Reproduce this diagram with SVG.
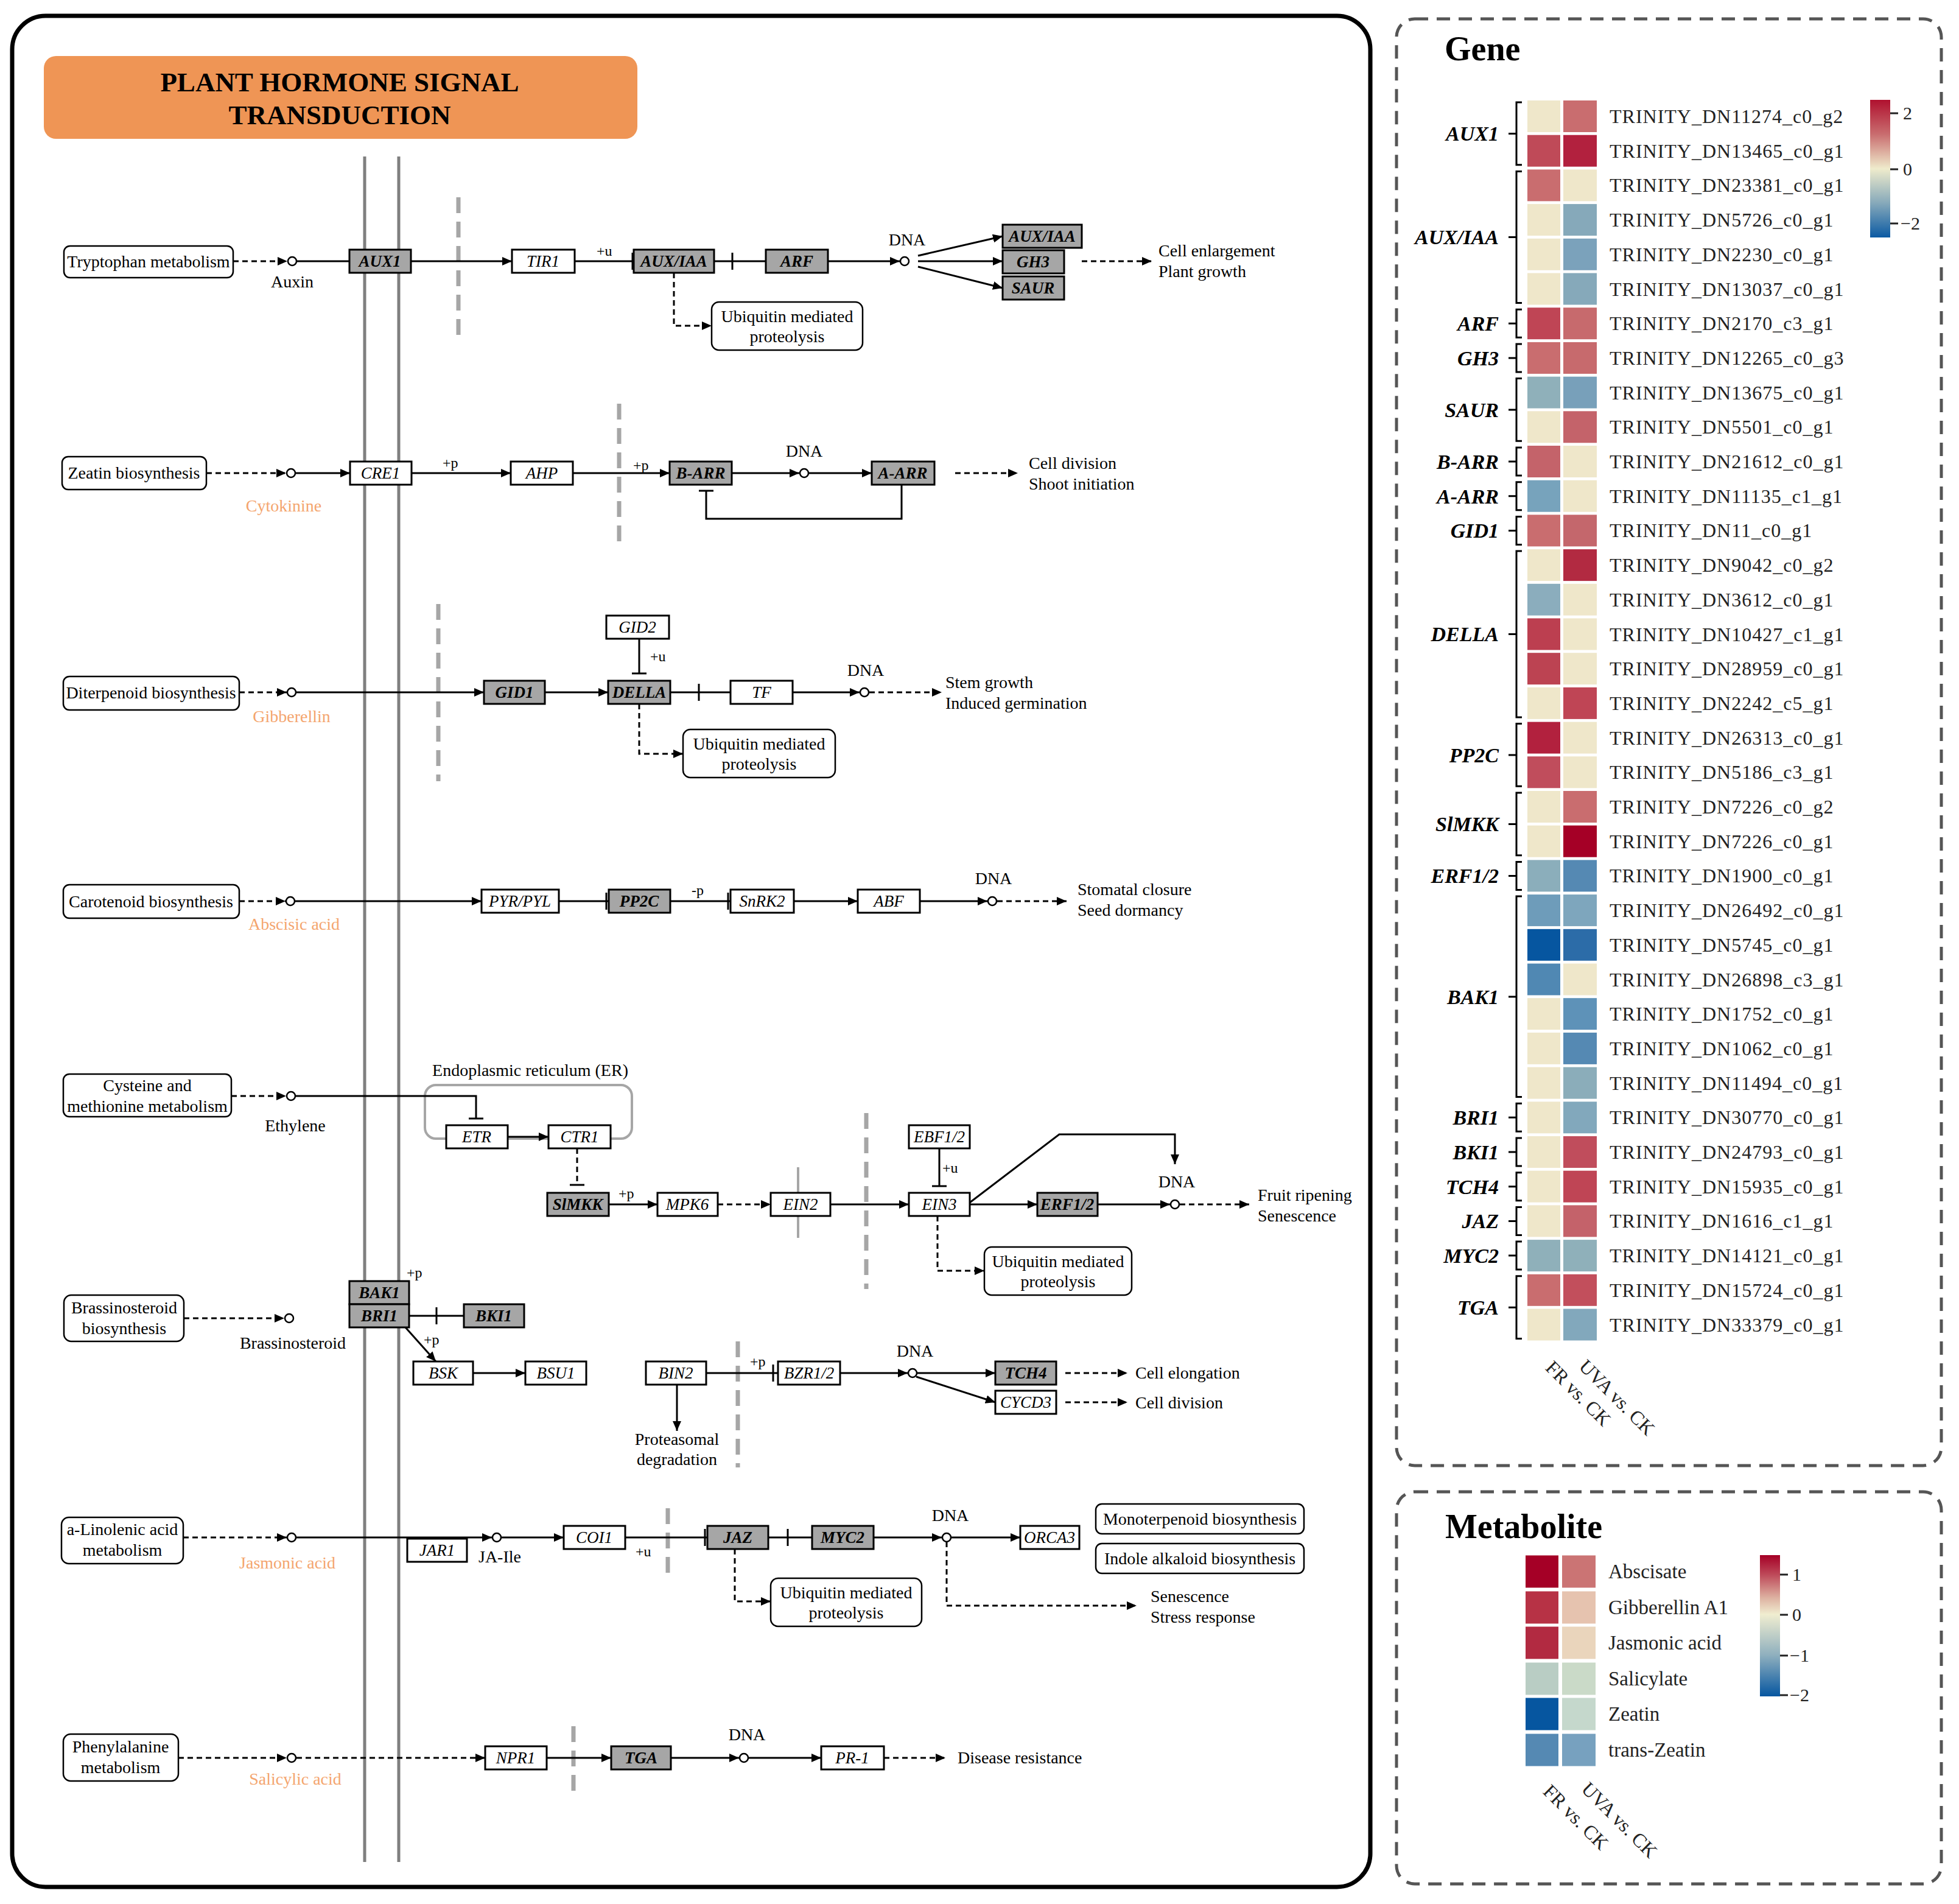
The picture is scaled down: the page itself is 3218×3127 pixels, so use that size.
<svg xmlns="http://www.w3.org/2000/svg" width="3218" height="3127" viewBox="0 0 3218 3127">
<defs>
<marker id="arr" viewBox="0 0 16 14" refX="16" refY="7" markerWidth="16" markerHeight="14" markerUnits="userSpaceOnUse" orient="auto"><path d="M0,0 L16,7 L0,14 z" fill="#000"/></marker>
<linearGradient id="gGene" x1="0" y1="0" x2="0" y2="1">
<stop offset="0" stop-color="#B0112F"/><stop offset="0.25" stop-color="#C96D6F"/><stop offset="0.5" stop-color="#EFEBCC"/><stop offset="0.75" stop-color="#86A9BA"/><stop offset="1" stop-color="#0B5AA3"/>
</linearGradient>
<linearGradient id="gMet" x1="0" y1="0" x2="0" y2="1">
<stop offset="0" stop-color="#A50026"/><stop offset="0.14" stop-color="#BE4A5A"/><stop offset="0.3" stop-color="#DDB0A0"/><stop offset="0.42" stop-color="#F0EDD0"/><stop offset="0.71" stop-color="#8EAFBE"/><stop offset="1" stop-color="#0656A0"/>
</linearGradient>
</defs>
<style>
text{font-family:"Liberation Serif","Times New Roman",serif;fill:#000}
.box{fill:#fff;stroke:#000;stroke-width:3}
.gbox{fill:#A6A6A6;stroke:#000;stroke-width:3}
.meta{fill:#fff;stroke:#000;stroke-width:2.5}
.bt{font-size:27px;font-style:italic;text-anchor:middle}
.gt{font-size:27px;font-style:italic;font-weight:bold;text-anchor:middle}
.lb{font-size:28px;text-anchor:middle}
.ll{font-size:28px}
.org{fill:#F4A56E}
.sm{font-size:24px}
.ln{stroke:#000;stroke-width:3;fill:none}
.ar{marker-end:url(#arr)}
.ds{stroke-dasharray:9 6}
.dt{stroke-dasharray:9 6}
.bar{stroke:#000;stroke-width:3}
.mem{stroke:#A6A6A6;stroke-width:7;stroke-dasharray:26 14;fill:none}
.cir{fill:#fff;stroke:#000;stroke-width:2.5}
.pan{fill:none;stroke:#555;stroke-width:5;stroke-dasharray:22 14}
.gl{font-size:32px;letter-spacing:1px;fill:#222}
.gn{font-size:34px;font-style:italic;font-weight:bold;text-anchor:end}
.br{stroke:#000;stroke-width:3;fill:none}
.tk{stroke:#222;stroke-width:3}
.lg{font-size:30px;fill:#222}
.ml{font-size:33px;fill:#222}
.rot{font-size:32px;fill:#222}
</style>

<rect x="20" y="26" width="2231" height="3073" rx="55" fill="none" stroke="#000" stroke-width="7"/>

<g id="title">
<rect x="72" y="92" width="975" height="136" rx="20" fill="#EF9555"/>
<text x="558" y="150" font-size="45" font-weight="bold" text-anchor="middle">PLANT HORMONE SIGNAL</text>
<text x="558" y="204" font-size="45" font-weight="bold" text-anchor="middle">TRANSDUCTION</text>
</g>

<g id="membranes">
<line x1="599" y1="257" x2="599" y2="3058" stroke="#7F7F7F" stroke-width="5"/>
<line x1="655" y1="257" x2="655" y2="3058" stroke="#7F7F7F" stroke-width="5"/>
<path class="mem" d="M753,324 V561 M1017,663 V900 M720,992 V1283 M1423,1828 V2117 M1212,2203 V2410 M1097,2477 V2588 M942,2835 V2947"/>
<line x1="1311" y1="1917" x2="1311" y2="2033" stroke="#A6A6A6" stroke-width="4"/>
<rect id="ER" x="698" y="1782" width="340" height="88" rx="18" fill="none" stroke="#A6A6A6" stroke-width="4"/>
<text class="lb" x="871" y="1767">Endoplasmic reticulum (ER)</text>
</g>

<g id="connectors">
<!-- row1 -->
<path class="ln ar ds" d="M383,429 H472"/>
<path class="ln" d="M487,429 H574"/>
<path class="ln ar" d="M675,429 H841"/>
<path class="ln" d="M944,429 H1041"/><path class="bar" d="M1039,415 V443"/>
<path class="ln" d="M1173,429 H1258"/><path class="bar" d="M1203,415 V443"/>
<path class="ln ar" d="M1360,429 H1478"/>
<path class="ln ar" d="M1508,420 L1647,388"/>
<path class="ln ar" d="M1508,429 H1647"/>
<path class="ln ar" d="M1508,438 L1647,473"/>
<path class="ln ar ds" d="M1777,429 H1892"/>
<path class="ln ar ds" d="M1107,448 V535 H1169"/>
<!-- row2 -->
<path class="ln ar dt" d="M339,777 H470"/>
<path class="ln ar" d="M486,777 H575"/>
<path class="ln ar" d="M676,777 H839"/>
<path class="ln ar" d="M941,777 H1100"/>
<path class="ln ar" d="M1202,777 H1313"/>
<path class="ln ar" d="M1329,777 H1432"/>
<path class="ln ar dt" d="M1569,777 H1672"/>
<path class="ln" d="M1481,796 V852 H1160 V806"/><path class="bar" d="M1148,806 H1172"/>
<!-- row3 -->
<path class="ln ar dt" d="M393,1137 H471"/>
<path class="ln ar" d="M486,1137 H795"/>
<path class="ln ar" d="M895,1137 H999"/>
<path class="ln" d="M1050,1049 V1106"/><path class="bar" d="M1038,1106 H1062"/>
<path class="ln" d="M1101,1137 H1200"/><path class="bar" d="M1148,1123 V1151"/>
<path class="ln ar" d="M1302,1137 H1412"/>
<path class="ln ar dt" d="M1428,1137 H1547"/>
<path class="ln ar ds" d="M1050,1156 V1238 H1122"/>
<!-- row4 -->
<path class="ln ar dt" d="M393,1480 H469"/>
<path class="ln ar" d="M484,1480 H791"/>
<path class="ln" d="M918,1480 H1000"/><path class="bar" d="M996,1466 V1494"/>
<path class="ln" d="M1101,1480 H1200"/><path class="bar" d="M1196,1466 V1494"/>
<path class="ln ar" d="M1304,1480 H1409"/>
<path class="ln ar" d="M1511,1480 H1622"/>
<path class="ln ar dt" d="M1638,1480 H1752"/>
<!-- row5 -->
<path class="ln ar dt" d="M380,1800 H470"/>
<path class="ln" d="M485,1800 H782 V1837"/><path class="bar" d="M770,1837 H794"/>
<path class="ln ar" d="M834,1867 H901"/>
<path class="ln ds" d="M948,1886 V1946"/><path class="bar" d="M936,1946 H960"/>
<path class="ln ar" d="M1000,1978 H1080"/>
<path class="ln ar dt" d="M1179,1978 H1266"/>
<path class="ln ar" d="M1364,1978 H1493"/>
<path class="ln" d="M1543,1886 V1948"/><path class="bar" d="M1531,1948 H1555"/>
<path class="ln ar" d="M1593,1978 H1704"/>
<path class="ln ar" d="M1803,1978 H1922"/>
<path class="ln ar" d="M1593,1975 L1740,1863 H1930 V1912"/>
<path class="ln ar dt" d="M1938,1978 H2052"/>
<path class="ln ar ds" d="M1540,1997 V2087 H1617"/>
<!-- row6 -->
<path class="ln ar dt" d="M302,2165 H467"/>
<path class="ln" d="M672,2161 H762"/><path class="bar" d="M717,2147 V2175"/>
<path class="ln ar" d="M666,2180 L716,2236"/>
<path class="ln ar" d="M777,2255 H863"/>
<path class="ln ar" d="M1112,2274 V2350"/>
<path class="ln" d="M1160,2255 H1278"/><path class="bar" d="M1270,2241 V2269"/>
<path class="ln ar" d="M1380,2255 H1491"/>
<path class="ln ar" d="M1507,2255 H1635"/>
<path class="ln ar" d="M1505,2261 L1635,2303"/>
<path class="ln ar dt" d="M1750,2255 H1852"/>
<path class="ln ar dt" d="M1750,2303 H1852"/>
<!-- row7 -->
<path class="ln ar dt" d="M301,2525 H471"/>
<path class="ln ar" d="M486,2525 H808"/>
<path class="ln ar" d="M823,2525 H926"/>
<path class="ln" d="M1027,2525 H1162"/><path class="bar" d="M1158,2511 V2539"/>
<path class="ln" d="M1262,2525 H1334"/><path class="bar" d="M1294,2511 V2539"/>
<path class="ln ar" d="M1435,2525 H1547"/>
<path class="ln ar" d="M1562,2525 H1676"/>
<path class="ln ar ds" d="M1207,2544 V2630 H1266"/>
<path class="ln ar ds" d="M1555,2532 V2637 H1867"/>
<!-- row8 -->
<path class="ln ar dt" d="M293,2887 H471"/>
<path class="ln ar dt" d="M487,2887 H797"/>
<path class="ln ar" d="M898,2887 H1004"/>
<path class="ln ar" d="M1102,2887 H1214"/>
<path class="ln ar" d="M1230,2887 H1349"/>
<path class="ln ar dt" d="M1452,2887 H1553"/>
<!-- edge labels -->
<text class="sm" x="980" y="420">+u</text>
<text class="sm" x="727" y="768">+p</text>
<text class="sm" x="1040" y="772">+p</text>
<text class="sm" x="1068" y="1086">+u</text>
<text class="sm" x="1136" y="1470">-p</text>
<text class="sm" x="1016" y="1968">+p</text>
<text class="sm" x="1548" y="1926">+u</text>
<text class="sm" x="668" y="2098">+p</text>
<text class="sm" x="696" y="2208">+p</text>
<text class="sm" x="1232" y="2244">+p</text>
<text class="sm" x="1044" y="2556">+u</text>
</g>

<g id="n-trp"><rect class="meta" x="105" y="404" width="278" height="52" rx="10"/><text class="lb" x="244" y="439">Tryptophan metabolism</text></g>
<g id="n-auxin"><circle class="cir" cx="480" cy="429" r="7"/><text class="lb" x="480" y="472">Auxin</text></g>
<g id="n-AUX1"><rect class="gbox" x="574" y="410" width="101" height="38"/><text class="gt" x="624" y="438">AUX1</text></g>
<g id="n-TIR1"><rect class="box" x="841" y="410" width="103" height="38"/><text class="bt" x="892" y="438">TIR1</text></g>
<g id="n-AUXIAA"><rect class="gbox" x="1041" y="410" width="132" height="38"/><text class="gt" x="1107" y="438">AUX/IAA</text></g>
<g id="n-ARF"><rect class="gbox" x="1258" y="410" width="102" height="38"/><text class="gt" x="1309" y="438">ARF</text></g>
<g id="n-dna1"><circle class="cir" cx="1486" cy="429" r="7"/><text class="lb" x="1490" y="403">DNA</text></g>
<g id="n-AUXIAA2"><rect class="gbox" x="1647" y="369" width="130" height="38"/><text class="gt" x="1712" y="397">AUX/IAA</text></g>
<g id="n-GH3"><rect class="gbox" x="1647" y="411" width="101" height="38"/><text class="gt" x="1697" y="439">GH3</text></g>
<g id="n-SAUR"><rect class="gbox" x="1647" y="454" width="101" height="38"/><text class="gt" x="1697" y="482">SAUR</text></g>
<g id="n-out1"><text class="ll" x="1903" y="421">Cell enlargement</text><text class="ll" x="1903" y="455">Plant growth</text></g>
<g id="n-ub1"><rect class="meta" x="1169" y="496" width="248" height="79" rx="12"/><text class="lb" x="1293" y="529">Ubiquitin mediated</text><text class="lb" x="1293" y="562">proteolysis</text></g>

<g id="n-zeatin"><rect class="meta" x="102" y="750" width="237" height="54" rx="10"/><text class="lb" x="220" y="786">Zeatin biosynthesis</text></g>
<g id="n-cyto"><circle class="cir" cx="478" cy="777" r="7"/><text class="lb org" x="466" y="840">Cytokinine</text></g>
<g id="n-CRE1"><rect class="box" x="575" y="758" width="101" height="38"/><text class="bt" x="625" y="786">CRE1</text></g>
<g id="n-AHP"><rect class="box" x="839" y="758" width="102" height="38"/><text class="bt" x="890" y="786">AHP</text></g>
<g id="n-BARR"><rect class="gbox" x="1100" y="758" width="102" height="38"/><text class="gt" x="1151" y="786">B-ARR</text></g>
<g id="n-dna2"><circle class="cir" cx="1321" cy="777" r="7"/><text class="lb" x="1321" y="750">DNA</text></g>
<g id="n-AARR"><rect class="gbox" x="1432" y="758" width="103" height="38"/><text class="gt" x="1483" y="786">A-ARR</text></g>
<g id="n-out2"><text class="ll" x="1690" y="770">Cell division</text><text class="ll" x="1690" y="804">Shoot initiation</text></g>

<g id="n-diterp"><rect class="meta" x="104" y="1111" width="289" height="55" rx="10"/><text class="lb" x="248" y="1147">Diterpenoid biosynthesis</text></g>
<g id="n-gib"><circle class="cir" cx="479" cy="1137" r="7"/><text class="lb org" x="479" y="1186">Gibberellin</text></g>
<g id="n-GID1"><rect class="gbox" x="795" y="1118" width="100" height="38"/><text class="gt" x="845" y="1146">GID1</text></g>
<g id="n-GID2"><rect class="box" x="996" y="1011" width="103" height="38"/><text class="bt" x="1047" y="1039">GID2</text></g>
<g id="n-DELLA"><rect class="gbox" x="999" y="1118" width="102" height="38"/><text class="gt" x="1050" y="1146">DELLA</text></g>
<g id="n-TF"><rect class="box" x="1200" y="1118" width="102" height="38"/><text class="bt" x="1251" y="1146">TF</text></g>
<g id="n-dna3"><circle class="cir" cx="1420" cy="1137" r="7"/><text class="lb" x="1422" y="1110">DNA</text></g>
<g id="n-out3"><text class="ll" x="1553" y="1130">Stem growth</text><text class="ll" x="1553" y="1164">Induced germination</text></g>
<g id="n-ub3"><rect class="meta" x="1122" y="1198" width="250" height="79" rx="12"/><text class="lb" x="1247" y="1231">Ubiquitin mediated</text><text class="lb" x="1247" y="1264">proteolysis</text></g>

<g id="n-carot"><rect class="meta" x="104" y="1453" width="289" height="55" rx="10"/><text class="lb" x="248" y="1490">Carotenoid biosynthesis</text></g>
<g id="n-aba"><circle class="cir" cx="477" cy="1480" r="7"/><text class="lb org" x="483" y="1527">Abscisic acid</text></g>
<g id="n-PYR"><rect class="box" x="791" y="1461" width="127" height="38"/><text class="bt" x="854" y="1489">PYR/PYL</text></g>
<g id="n-PP2C"><rect class="gbox" x="1000" y="1461" width="101" height="38"/><text class="gt" x="1050" y="1489">PP2C</text></g>
<g id="n-SnRK2"><rect class="box" x="1200" y="1461" width="104" height="38"/><text class="bt" x="1252" y="1489">SnRK2</text></g>
<g id="n-ABF"><rect class="box" x="1409" y="1461" width="102" height="38"/><text class="bt" x="1460" y="1489">ABF</text></g>
<g id="n-dna4"><circle class="cir" cx="1630" cy="1480" r="7"/><text class="lb" x="1632" y="1452">DNA</text></g>
<g id="n-out4"><text class="ll" x="1770" y="1470">Stomatal closure</text><text class="ll" x="1770" y="1504">Seed dormancy</text></g>

<g id="n-cys"><rect class="meta" x="104" y="1764" width="276" height="70" rx="10"/><text class="lb" x="242" y="1792">Cysteine and</text><text class="lb" x="242" y="1826">methionine metabolism</text></g>
<g id="n-eth"><circle class="cir" cx="478" cy="1800" r="7"/><text class="lb" x="485" y="1858">Ethylene</text></g>
<g id="n-ETR"><rect class="box" x="733" y="1848" width="101" height="38"/><text class="bt" x="783" y="1876">ETR</text></g>
<g id="n-CTR1"><rect class="box" x="901" y="1848" width="102" height="38"/><text class="bt" x="952" y="1876">CTR1</text></g>
<g id="n-SlMKK"><rect class="gbox" x="899" y="1959" width="101" height="38"/><text class="gt" x="949" y="1987">SlMKK</text></g>
<g id="n-MPK6"><rect class="box" x="1080" y="1959" width="99" height="38"/><text class="bt" x="1129" y="1987">MPK6</text></g>
<g id="n-EIN2"><rect class="box" x="1266" y="1959" width="98" height="38"/><text class="bt" x="1315" y="1987">EIN2</text></g>
<g id="n-EBF"><rect class="box" x="1493" y="1848" width="100" height="38"/><text class="bt" x="1543" y="1876">EBF1/2</text></g>
<g id="n-EIN3"><rect class="box" x="1493" y="1959" width="100" height="38"/><text class="bt" x="1543" y="1987">EIN3</text></g>
<g id="n-ERF"><rect class="gbox" x="1704" y="1959" width="99" height="38"/><text class="gt" x="1753" y="1987">ERF1/2</text></g>
<g id="n-dna5"><circle class="cir" cx="1930" cy="1978" r="7"/><text class="lb" x="1933" y="1950">DNA</text></g>
<g id="n-out5"><text class="ll" x="2066" y="1972">Fruit ripening</text><text class="ll" x="2066" y="2006">Senescence</text></g>
<g id="n-ub5"><rect class="meta" x="1617" y="2048" width="242" height="79" rx="12"/><text class="lb" x="1738" y="2081">Ubiquitin mediated</text><text class="lb" x="1738" y="2114">proteolysis</text></g>

<g id="n-brass"><rect class="meta" x="105" y="2127" width="197" height="76" rx="12"/><text class="lb" x="204" y="2157">Brassinosteroid</text><text class="lb" x="204" y="2191">biosynthesis</text></g>
<g id="n-br"><circle class="cir" cx="475" cy="2165" r="7"/><text class="lb" x="481" y="2215">Brassinosteroid</text></g>
<g id="n-BAK1"><rect class="gbox" x="574" y="2104" width="98" height="38"/><text class="gt" x="623" y="2132">BAK1</text></g>
<g id="n-BRI1"><rect class="gbox" x="574" y="2142" width="98" height="38"/><text class="gt" x="623" y="2170">BRI1</text></g>
<g id="n-BKI1"><rect class="gbox" x="762" y="2142" width="99" height="38"/><text class="gt" x="811" y="2170">BKI1</text></g>
<g id="n-BSK"><rect class="box" x="679" y="2236" width="98" height="38"/><text class="bt" x="728" y="2264">BSK</text></g>
<g id="n-BSU1"><rect class="box" x="863" y="2236" width="100" height="38"/><text class="bt" x="913" y="2264">BSU1</text></g>
<g id="n-BIN2"><rect class="box" x="1061" y="2236" width="99" height="38"/><text class="bt" x="1110" y="2264">BIN2</text></g>
<g id="n-prot"><text class="lb" x="1112" y="2373">Proteasomal</text><text class="lb" x="1112" y="2406">degradation</text></g>
<g id="n-BZR"><rect class="box" x="1278" y="2236" width="102" height="38"/><text class="bt" x="1329" y="2264">BZR1/2</text></g>
<g id="n-dna6"><circle class="cir" cx="1499" cy="2255" r="7"/><text class="lb" x="1503" y="2228">DNA</text></g>
<g id="n-TCH4"><rect class="gbox" x="1635" y="2236" width="100" height="38"/><text class="gt" x="1685" y="2264">TCH4</text></g>
<g id="n-CYCD3"><rect class="box" x="1635" y="2284" width="100" height="38"/><text class="bt" x="1685" y="2312">CYCD3</text></g>
<g id="n-out6"><text class="ll" x="1865" y="2264">Cell elongation</text><text class="ll" x="1865" y="2313">Cell division</text></g>

<g id="n-lino"><rect class="meta" x="101" y="2492" width="200" height="76" rx="12"/><text class="lb" x="201" y="2521">a-Linolenic acid</text><text class="lb" x="201" y="2555">metabolism</text></g>
<g id="n-ja"><circle class="cir" cx="479" cy="2525" r="7"/><text class="lb org" x="472" y="2576">Jasmonic acid</text></g>
<g id="n-JAR1"><rect class="box" x="669" y="2527" width="98" height="38"/><text class="bt" x="718" y="2555">JAR1</text></g>
<g id="n-jaile"><circle class="cir" cx="816" cy="2525" r="7"/><text class="lb" x="821" y="2566">JA-Ile</text></g>
<g id="n-COI1"><rect class="box" x="926" y="2506" width="101" height="38"/><text class="bt" x="976" y="2534">COI1</text></g>
<g id="n-JAZ"><rect class="gbox" x="1162" y="2506" width="100" height="38"/><text class="gt" x="1212" y="2534">JAZ</text></g>
<g id="n-MYC2"><rect class="gbox" x="1334" y="2506" width="101" height="38"/><text class="gt" x="1384" y="2534">MYC2</text></g>
<g id="n-dna7"><circle class="cir" cx="1555" cy="2525" r="7"/><text class="lb" x="1561" y="2498">DNA</text></g>
<g id="n-ORCA3"><rect class="box" x="1676" y="2506" width="97" height="38"/><text class="bt" x="1724" y="2534">ORCA3</text></g>
<g id="n-mono"><rect class="meta" x="1800" y="2470" width="342" height="49" rx="10"/><text class="lb" x="1971" y="2504">Monoterpenoid biosynthesis</text></g>
<g id="n-indole"><rect class="meta" x="1800" y="2535" width="342" height="49" rx="10"/><text class="lb" x="1971" y="2569">Indole alkaloid biosynthesis</text></g>
<g id="n-ub7"><rect class="meta" x="1266" y="2592" width="248" height="79" rx="12"/><text class="lb" x="1390" y="2625">Ubiquitin mediated</text><text class="lb" x="1390" y="2658">proteolysis</text></g>
<g id="n-out7"><text class="ll" x="1890" y="2631">Senescence</text><text class="ll" x="1890" y="2665">Stress response</text></g>

<g id="n-phe"><rect class="meta" x="104" y="2848" width="189" height="77" rx="12"/><text class="lb" x="198" y="2878">Phenylalanine</text><text class="lb" x="198" y="2912">metabolism</text></g>
<g id="n-sa"><circle class="cir" cx="479" cy="2887" r="7"/><text class="lb org" x="485" y="2931">Salicylic acid</text></g>
<g id="n-NPR1"><rect class="box" x="797" y="2868" width="101" height="38"/><text class="bt" x="847" y="2896">NPR1</text></g>
<g id="n-TGA"><rect class="gbox" x="1004" y="2868" width="98" height="38"/><text class="gt" x="1053" y="2896">TGA</text></g>
<g id="n-dna8"><circle class="cir" cx="1222" cy="2887" r="7"/><text class="lb" x="1227" y="2858">DNA</text></g>
<g id="n-PR1"><rect class="box" x="1349" y="2868" width="103" height="38"/><text class="bt" x="1400" y="2896">PR-1</text></g>
<g id="n-out8"><text class="ll" x="1573" y="2896">Disease resistance</text></g>

<g id="gene-panel">
<rect class="pan" x="2294" y="31" width="895" height="2376" rx="30"/>
<text x="2373" y="99" font-size="56" font-weight="bold">Gene</text>
<g id="gene-cells">
<rect x="2509" y="165.0" width="54" height="52" fill="#EFE7CA"/><rect x="2568" y="165.0" width="55" height="52" fill="#C96D6F"/>
<rect x="2509" y="221.7" width="54" height="52" fill="#BF4A58"/><rect x="2568" y="221.7" width="55" height="52" fill="#B2213E"/>
<rect x="2509" y="278.4" width="54" height="52" fill="#C96D6F"/><rect x="2568" y="278.4" width="55" height="52" fill="#EFE7CA"/>
<rect x="2509" y="335.1" width="54" height="52" fill="#EFE7CA"/><rect x="2568" y="335.1" width="55" height="52" fill="#86A9BA"/>
<rect x="2509" y="391.8" width="54" height="52" fill="#EFE7CA"/><rect x="2568" y="391.8" width="55" height="52" fill="#7BA2BB"/>
<rect x="2509" y="448.5" width="54" height="52" fill="#EFE7CA"/><rect x="2568" y="448.5" width="55" height="52" fill="#86A9BA"/>
<rect x="2509" y="505.2" width="54" height="52" fill="#BF4555"/><rect x="2568" y="505.2" width="55" height="52" fill="#C76A6D"/>
<rect x="2509" y="561.9" width="54" height="52" fill="#C96D6F"/><rect x="2568" y="561.9" width="55" height="52" fill="#C76A6D"/>
<rect x="2509" y="618.6" width="54" height="52" fill="#8FB0BA"/><rect x="2568" y="618.6" width="55" height="52" fill="#78A0BA"/>
<rect x="2509" y="675.3" width="54" height="52" fill="#EFE7CA"/><rect x="2568" y="675.3" width="55" height="52" fill="#C4636A"/>
<rect x="2509" y="732.0" width="54" height="52" fill="#C4636A"/><rect x="2568" y="732.0" width="55" height="52" fill="#EFE7CA"/>
<rect x="2509" y="788.7" width="54" height="52" fill="#77A3BC"/><rect x="2568" y="788.7" width="55" height="52" fill="#EFE7CA"/>
<rect x="2509" y="845.4" width="54" height="52" fill="#C96D6F"/><rect x="2568" y="845.4" width="55" height="52" fill="#C4676C"/>
<rect x="2509" y="902.1" width="54" height="52" fill="#EFE7CA"/><rect x="2568" y="902.1" width="55" height="52" fill="#B22A41"/>
<rect x="2509" y="958.8" width="54" height="52" fill="#8BADBD"/><rect x="2568" y="958.8" width="55" height="52" fill="#EFE7CA"/>
<rect x="2509" y="1015.5" width="54" height="52" fill="#BC3F50"/><rect x="2568" y="1015.5" width="55" height="52" fill="#EFE7CA"/>
<rect x="2509" y="1072.2" width="54" height="52" fill="#BC4352"/><rect x="2568" y="1072.2" width="55" height="52" fill="#EFE7CA"/>
<rect x="2509" y="1128.9" width="54" height="52" fill="#EFE7CA"/><rect x="2568" y="1128.9" width="55" height="52" fill="#BF4555"/>
<rect x="2509" y="1185.6" width="54" height="52" fill="#B2213E"/><rect x="2568" y="1185.6" width="55" height="52" fill="#EFE7CA"/>
<rect x="2509" y="1242.3" width="54" height="52" fill="#C04D5C"/><rect x="2568" y="1242.3" width="55" height="52" fill="#EFE7CA"/>
<rect x="2509" y="1299.0" width="54" height="52" fill="#EFE7CA"/><rect x="2568" y="1299.0" width="55" height="52" fill="#C96D6F"/>
<rect x="2509" y="1355.7" width="54" height="52" fill="#EFE7CA"/><rect x="2568" y="1355.7" width="55" height="52" fill="#A50026"/>
<rect x="2509" y="1412.4" width="54" height="52" fill="#8BAEBB"/><rect x="2568" y="1412.4" width="55" height="52" fill="#5589B3"/>
<rect x="2509" y="1469.1" width="54" height="52" fill="#6E9CBA"/><rect x="2568" y="1469.1" width="55" height="52" fill="#7EA6BD"/>
<rect x="2509" y="1525.8" width="54" height="52" fill="#0656A0"/><rect x="2568" y="1525.8" width="55" height="52" fill="#2C6CA8"/>
<rect x="2509" y="1582.5" width="54" height="52" fill="#5088B3"/><rect x="2568" y="1582.5" width="55" height="52" fill="#EFE7CA"/>
<rect x="2509" y="1639.2" width="54" height="52" fill="#EFE7CA"/><rect x="2568" y="1639.2" width="55" height="52" fill="#5E92B8"/>
<rect x="2509" y="1695.9" width="54" height="52" fill="#EFE7CA"/><rect x="2568" y="1695.9" width="55" height="52" fill="#5589B3"/>
<rect x="2509" y="1752.6" width="54" height="52" fill="#EFE7CA"/><rect x="2568" y="1752.6" width="55" height="52" fill="#8BADBA"/>
<rect x="2509" y="1809.3" width="54" height="52" fill="#EFE7CA"/><rect x="2568" y="1809.3" width="55" height="52" fill="#82A8BC"/>
<rect x="2509" y="1866.0" width="54" height="52" fill="#EFE7CA"/><rect x="2568" y="1866.0" width="55" height="52" fill="#C04D5C"/>
<rect x="2509" y="1922.7" width="54" height="52" fill="#EFE7CA"/><rect x="2568" y="1922.7" width="55" height="52" fill="#BF4555"/>
<rect x="2509" y="1979.4" width="54" height="52" fill="#EFE7CA"/><rect x="2568" y="1979.4" width="55" height="52" fill="#C4626A"/>
<rect x="2509" y="2036.1" width="54" height="52" fill="#8FB0BA"/><rect x="2568" y="2036.1" width="55" height="52" fill="#8FB0BA"/>
<rect x="2509" y="2092.8" width="54" height="52" fill="#C96D6F"/><rect x="2568" y="2092.8" width="55" height="52" fill="#C24F5C"/>
<rect x="2509" y="2149.5" width="54" height="52" fill="#EFE7CA"/><rect x="2568" y="2149.5" width="55" height="52" fill="#82A8BC"/>
</g>
<g id="gene-ids">
<text class="gl" x="2644" y="202">TRINITY_DN11274_c0_g2</text>
<text class="gl" x="2644" y="258.7">TRINITY_DN13465_c0_g1</text>
<text class="gl" x="2644" y="315.4">TRINITY_DN23381_c0_g1</text>
<text class="gl" x="2644" y="372.1">TRINITY_DN5726_c0_g1</text>
<text class="gl" x="2644" y="428.8">TRINITY_DN2230_c0_g1</text>
<text class="gl" x="2644" y="485.5">TRINITY_DN13037_c0_g1</text>
<text class="gl" x="2644" y="542.2">TRINITY_DN2170_c3_g1</text>
<text class="gl" x="2644" y="598.9">TRINITY_DN12265_c0_g3</text>
<text class="gl" x="2644" y="655.6">TRINITY_DN13675_c0_g1</text>
<text class="gl" x="2644" y="712.3">TRINITY_DN5501_c0_g1</text>
<text class="gl" x="2644" y="769">TRINITY_DN21612_c0_g1</text>
<text class="gl" x="2644" y="825.7">TRINITY_DN11135_c1_g1</text>
<text class="gl" x="2644" y="882.4">TRINITY_DN11_c0_g1</text>
<text class="gl" x="2644" y="939.1">TRINITY_DN9042_c0_g2</text>
<text class="gl" x="2644" y="995.8">TRINITY_DN3612_c0_g1</text>
<text class="gl" x="2644" y="1052.5">TRINITY_DN10427_c1_g1</text>
<text class="gl" x="2644" y="1109.2">TRINITY_DN28959_c0_g1</text>
<text class="gl" x="2644" y="1165.9">TRINITY_DN2242_c5_g1</text>
<text class="gl" x="2644" y="1222.6">TRINITY_DN26313_c0_g1</text>
<text class="gl" x="2644" y="1279.3">TRINITY_DN5186_c3_g1</text>
<text class="gl" x="2644" y="1336">TRINITY_DN7226_c0_g2</text>
<text class="gl" x="2644" y="1392.7">TRINITY_DN7226_c0_g1</text>
<text class="gl" x="2644" y="1449.4">TRINITY_DN1900_c0_g1</text>
<text class="gl" x="2644" y="1506.1">TRINITY_DN26492_c0_g1</text>
<text class="gl" x="2644" y="1562.8">TRINITY_DN5745_c0_g1</text>
<text class="gl" x="2644" y="1619.5">TRINITY_DN26898_c3_g1</text>
<text class="gl" x="2644" y="1676.2">TRINITY_DN1752_c0_g1</text>
<text class="gl" x="2644" y="1732.9">TRINITY_DN1062_c0_g1</text>
<text class="gl" x="2644" y="1789.6">TRINITY_DN11494_c0_g1</text>
<text class="gl" x="2644" y="1846.3">TRINITY_DN30770_c0_g1</text>
<text class="gl" x="2644" y="1903">TRINITY_DN24793_c0_g1</text>
<text class="gl" x="2644" y="1959.7">TRINITY_DN15935_c0_g1</text>
<text class="gl" x="2644" y="2016.4">TRINITY_DN1616_c1_g1</text>
<text class="gl" x="2644" y="2073.1">TRINITY_DN14121_c0_g1</text>
<text class="gl" x="2644" y="2129.8">TRINITY_DN15724_c0_g1</text>
<text class="gl" x="2644" y="2186.5">TRINITY_DN33379_c0_g1</text>
</g>
<g id="gene-groups">
<path class="br" d="M2500,168 H2491 V270.7 H2500 M2491,219.4 H2478"/><text class="gn" x="2462" y="231">AUX1</text>
<path class="br" d="M2500,281.4 H2491 V497.5 H2500 M2491,389.5 H2478"/><text class="gn" x="2462" y="401">AUX/IAA</text>
<path class="br" d="M2500,508.2 H2491 V554.2 H2500 M2491,531.2 H2478"/><text class="gn" x="2462" y="543">ARF</text>
<path class="br" d="M2500,564.9 H2491 V610.9 H2500 M2491,587.9 H2478"/><text class="gn" x="2462" y="600">GH3</text>
<path class="br" d="M2500,621.6 H2491 V724.3 H2500 M2491,673 H2478"/><text class="gn" x="2462" y="685">SAUR</text>
<path class="br" d="M2500,735 H2491 V781 H2500 M2491,758 H2478"/><text class="gn" x="2462" y="770">B-ARR</text>
<path class="br" d="M2500,791.7 H2491 V837.7 H2500 M2491,814.7 H2478"/><text class="gn" x="2462" y="827">A-ARR</text>
<path class="br" d="M2500,848.4 H2491 V894.4 H2500 M2491,871.4 H2478"/><text class="gn" x="2462" y="883">GID1</text>
<path class="br" d="M2500,905.1 H2491 V1177.9 H2500 M2491,1041.5 H2478"/><text class="gn" x="2462" y="1053">DELLA</text>
<path class="br" d="M2500,1188.6 H2491 V1291.3 H2500 M2491,1240 H2478"/><text class="gn" x="2462" y="1252">PP2C</text>
<path class="br" d="M2500,1302 H2491 V1404.7 H2500 M2491,1353.4 H2478"/><text class="gn" x="2462" y="1365">SlMKK</text>
<path class="br" d="M2500,1415.4 H2491 V1461.4 H2500 M2491,1438.4 H2478"/><text class="gn" x="2462" y="1450">ERF1/2</text>
<path class="br" d="M2500,1472.1 H2491 V1801.6 H2500 M2491,1636.9 H2478"/><text class="gn" x="2462" y="1649">BAK1</text>
<path class="br" d="M2500,1812.3 H2491 V1858.3 H2500 M2491,1835.3 H2478"/><text class="gn" x="2462" y="1847">BRI1</text>
<path class="br" d="M2500,1869 H2491 V1915 H2500 M2491,1892 H2478"/><text class="gn" x="2462" y="1904">BKI1</text>
<path class="br" d="M2500,1925.7 H2491 V1971.7 H2500 M2491,1948.7 H2478"/><text class="gn" x="2462" y="1961">TCH4</text>
<path class="br" d="M2500,1982.4 H2491 V2028.4 H2500 M2491,2005.4 H2478"/><text class="gn" x="2462" y="2017">JAZ</text>
<path class="br" d="M2500,2039.1 H2491 V2085.1 H2500 M2491,2062.1 H2478"/><text class="gn" x="2462" y="2074">MYC2</text>
<path class="br" d="M2500,2095.8 H2491 V2198.5 H2500 M2491,2147.2 H2478"/><text class="gn" x="2462" y="2159">TGA</text>
</g>
<g id="gene-legend">
<rect x="3072" y="164" width="33" height="226" fill="url(#gGene)"/>
<path class="tk" d="M3105,186 H3118 M3105,278 H3118 M3105,367 H3118"/>
<text class="lg" x="3126" y="196">2</text>
<text class="lg" x="3126" y="288">0</text>
<text class="lg" x="3122" y="377">−2</text>
</g>
<text class="rot" x="2537" y="2248" transform="rotate(45 2537 2248)">FR vs. CK</text>
<text class="rot" x="2592" y="2246" transform="rotate(45 2592 2246)">UVA vs. CK</text>
</g>

<g id="metabolite-panel">
<rect class="pan" x="2294" y="2450" width="895" height="644" rx="30"/>
<text x="2374" y="2526" font-size="56" font-weight="bold">Metabolite</text>
<rect x="2506" y="2554.5" width="54" height="53" fill="#A50026"/><rect x="2566" y="2554.5" width="55" height="53" fill="#CB7474"/>
<rect x="2506" y="2613.5" width="54" height="53" fill="#B73245"/><rect x="2566" y="2613.5" width="55" height="53" fill="#E6C3AF"/>
<rect x="2506" y="2671.5" width="54" height="53" fill="#B22A41"/><rect x="2566" y="2671.5" width="55" height="53" fill="#EAD5BC"/>
<rect x="2506" y="2730.5" width="54" height="53" fill="#B9CDC4"/><rect x="2566" y="2730.5" width="55" height="53" fill="#CADAC8"/>
<rect x="2506" y="2788.5" width="54" height="53" fill="#0656A0"/><rect x="2566" y="2788.5" width="55" height="53" fill="#C5D8CC"/>
<rect x="2506" y="2847.5" width="54" height="53" fill="#5589B3"/><rect x="2566" y="2847.5" width="55" height="53" fill="#77A1BF"/>
<text class="ml" x="2642" y="2592">Abscisate</text>
<text class="ml" x="2642" y="2651">Gibberellin A1</text>
<text class="ml" x="2642" y="2709">Jasmonic acid</text>
<text class="ml" x="2642" y="2768">Salicylate</text>
<text class="ml" x="2642" y="2826">Zeatin</text>
<text class="ml" x="2642" y="2885">trans-Zeatin</text>
<rect x="2891" y="2554" width="33" height="232" fill="url(#gMet)"/>
<path class="tk" d="M2924,2586 H2937 M2924,2652 H2937 M2924,2719 H2937 M2924,2784 H2937"/>
<text class="lg" x="2944" y="2596">1</text>
<text class="lg" x="2944" y="2662">0</text>
<text class="lg" x="2940" y="2729">−1</text>
<text class="lg" x="2940" y="2794">−2</text>
<text class="rot" x="2533" y="2944" transform="rotate(45 2533 2944)">FR vs. CK</text>
<text class="rot" x="2596" y="2940" transform="rotate(45 2596 2940)">UVA vs. CK</text>
</g>
</svg>
